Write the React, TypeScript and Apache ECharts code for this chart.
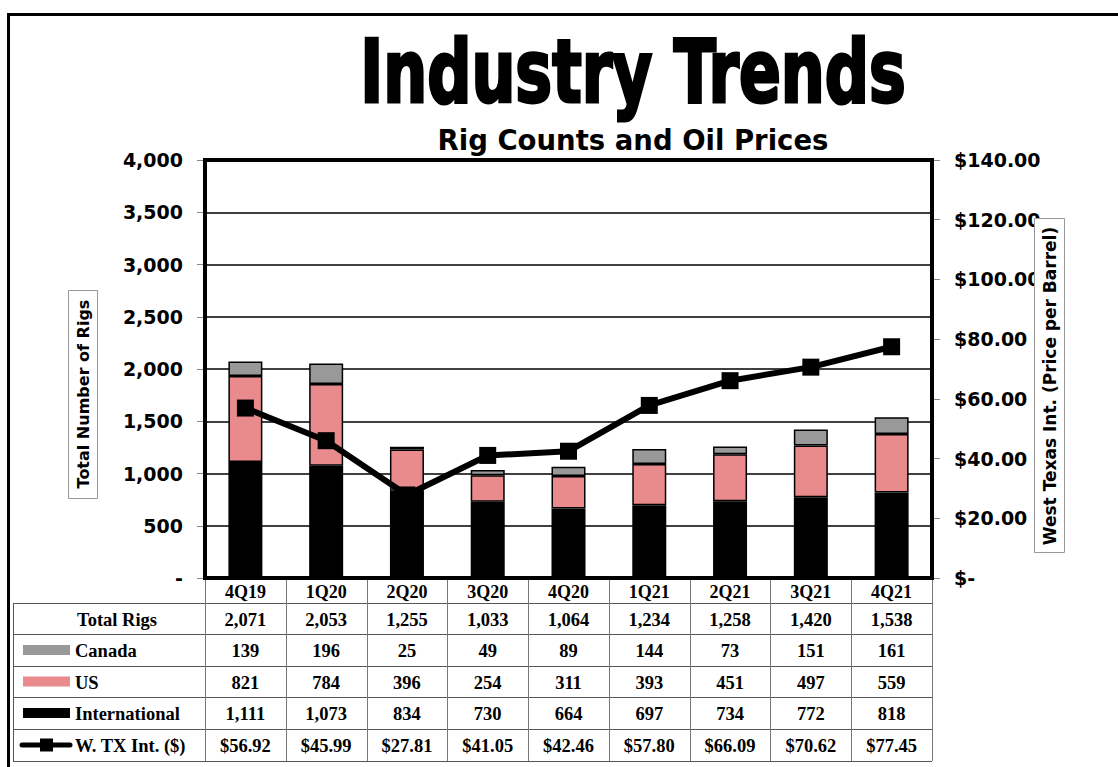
import React, { useEffect, useRef } from "react";
import * as echarts from "echarts";

const categories = ["4Q19", "1Q20", "2Q20", "3Q20", "4Q20", "1Q21", "2Q21", "3Q21", "4Q21"];
const totalRigs = [2071, 2053, 1255, 1033, 1064, 1234, 1258, 1420, 1538];
const canada = [139, 196, 25, 49, 89, 144, 73, 151, 161];
const us = [821, 784, 396, 254, 311, 393, 451, 497, 559];
const international = [1111, 1073, 834, 730, 664, 697, 734, 772, 818];
const wti = [56.92, 45.99, 27.81, 41.05, 42.46, 57.8, 66.09, 70.62, 77.45];

const GRAY = "#999999";
const PINK = "#E98A8C";
const SANS = "'DejaVu Sans', Verdana, sans-serif";
const SERIF = "'Liberation Serif', 'Times New Roman', serif";

const fmtInt = (v: number) => v.toLocaleString("en-US");
const fmtUsd = (v: number) => "$" + v.toFixed(2);

export default function App() {
  const ref = useRef<HTMLDivElement>(null);
  useEffect(() => {
    if (!ref.current) return;
    const chart = echarts.init(ref.current, undefined, { renderer: "svg" });
    const gl = 205, gt = 160, gw = 727, gh = 418;
    const colW = gw / categories.length;
    const rows = [603, 634, 666, 697, 729, 761];
    const tblLeft = 13, tblRight = gl + gw;
    const lineC = "#555";

    const g: any[] = [];
    // outer frame
    g.push({ type: "polyline", shape: { points: [[8.5, 770], [8.5, 14.5], [1120, 14.5]] }, style: { stroke: "#000", lineWidth: 3, fill: null }, z: 100 });
    // title
    g.push({
      type: "text", x: 633, y: 72, scaleX: 0.78, scaleY: 1.0,
      style: { text: "Industry Trends", fontFamily: "'DejaVu Sans Condensed', 'DejaVu Sans', sans-serif", fontWeight: "bold", fontSize: 88, fill: "#000", stroke: "#000", lineWidth: 3, align: "center", verticalAlign: "middle" },
    });
    g.push({
      type: "text", x: 633, y: 140,
      style: { text: "Rig Counts and Oil Prices", fontFamily: SANS, fontWeight: "bold", fontSize: 27.5, fill: "#000", align: "center", verticalAlign: "middle" },
    });
    // axis name boxes
    g.push({ type: "rect", shape: { x: 68.5, y: 290.5, width: 29, height: 208 }, style: { fill: "#fff", stroke: "#999", lineWidth: 1 }, z: 50 });
    g.push({ type: "text", x: 83, y: 394, rotation: Math.PI / 2, z: 51, style: { text: "Total Number of Rigs", fontFamily: SANS, fontWeight: "bold", fontSize: 16, fill: "#000", align: "center", verticalAlign: "middle" } });
    g.push({ type: "rect", shape: { x: 1034.5, y: 218.5, width: 30, height: 334 }, style: { fill: "#fff", stroke: "#999", lineWidth: 1 }, z: 50 });
    g.push({ type: "text", x: 1049.5, y: 386, rotation: Math.PI / 2, z: 51, style: { text: "West Texas Int. (Price per Barrel)", fontFamily: SANS, fontWeight: "bold", fontSize: 17, fill: "#000", align: "center", verticalAlign: "middle" } });

    // table lines
    rows.forEach((y) => {
      g.push({ type: "line", shape: { x1: tblLeft, y1: y + 0.5, x2: tblRight, y2: y + 0.5 }, style: { stroke: lineC, lineWidth: 1 } });
    });
    g.push({ type: "line", shape: { x1: tblLeft + 0.5, y1: rows[0], x2: tblLeft + 0.5, y2: rows[rows.length - 1] }, style: { stroke: lineC, lineWidth: 1 } });
    for (let i = 0; i <= categories.length; i++) {
      const x = Math.round(gl + i * colW) + 0.5;
      g.push({ type: "line", shape: { x1: x, y1: gt + gh, x2: x, y2: rows[rows.length - 1] }, style: { stroke: "#777", lineWidth: 1 } });
    }

    const rowLabels = ["Total Rigs", "Canada", "US", "International", "W. TX Int. ($)"];
    const rowData: string[][] = [
      totalRigs.map(fmtInt),
      canada.map(fmtInt),
      us.map(fmtInt),
      international.map(fmtInt),
      wti.map(fmtUsd),
    ];
    const tStyle = { fontFamily: SERIF, fontWeight: "bold", fontSize: 18.5, fill: "#000", verticalAlign: "middle" };
    rowLabels.forEach((lab, r) => {
      const cy = (rows[r] + rows[r + 1]) / 2 + 1;
      if (r === 0) {
        g.push({ type: "text", x: 117, y: cy, style: { ...tStyle, text: lab, align: "center" } });
      } else {
        g.push({ type: "text", x: 75, y: cy, style: { ...tStyle, text: lab, align: "left" } });
      }
      rowData[r].forEach((v, i) => {
        g.push({ type: "text", x: gl + (i + 0.5) * colW, y: cy, style: { ...tStyle, text: v, align: "center" } });
      });
    });
    // legend swatches
    const swColors = [GRAY, PINK, "#000"];
    swColors.forEach((c, k) => {
      const cy = (rows[k + 1] + rows[k + 2]) / 2;
      g.push({ type: "rect", shape: { x: 23, y: cy - 5, width: 47, height: 10 }, style: { fill: c } });
    });
    {
      const cy = (rows[4] + rows[5]) / 2;
      g.push({ type: "line", shape: { x1: 22, y1: cy, x2: 70, y2: cy }, style: { stroke: "#000", lineWidth: 5, lineCap: "round" } });
      g.push({ type: "rect", shape: { x: 40, y: cy - 6.5, width: 13, height: 13 }, style: { fill: "#000" } });
    }

    const barBase = { type: "bar", stack: "rigs", barWidth: 34 };
    chart.setOption({
      animation: false,
      grid: { left: gl, top: gt, width: gw, height: gh, show: true, borderColor: "#000", borderWidth: 4, backgroundColor: "transparent", z: 3 },
      xAxis: {
        type: "category", data: categories,
        axisLine: { show: false }, axisTick: { show: false },
        axisLabel: { fontFamily: SERIF, fontWeight: "bold", fontSize: 18, color: "#000", margin: 5 },
      },
      yAxis: [
        {
          type: "value", min: 0, max: 4000, interval: 500,
          axisLine: { show: false },
          axisTick: { show: true, length: 8, lineStyle: { color: "#888", width: 1 } },
          splitLine: { show: true, lineStyle: { color: "#000", width: 1.5 } },
          axisLabel: { fontFamily: SANS, fontWeight: "bold", fontSize: 19, color: "#000", margin: 22, formatter: (v: number) => (v === 0 ? "-" : fmtInt(v)) },
        },
        {
          type: "value", min: 0, max: 140, interval: 20, position: "right",
          axisLine: { show: false },
          axisTick: { show: true, length: 8, lineStyle: { color: "#888", width: 1 } },
          splitLine: { show: false },
          axisLabel: { fontFamily: SANS, fontWeight: "bold", fontSize: 19, color: "#000", margin: 22, formatter: (v: number) => (v === 0 ? "$-" : fmtUsd(v)) },
        },
      ],
      series: [
        { ...barBase, name: "International", data: international, itemStyle: { color: "#000", borderColor: "#000", borderWidth: 1.5 } },
        { ...barBase, name: "US", data: us, itemStyle: { color: PINK, borderColor: "#000", borderWidth: 1.5 } },
        { ...barBase, name: "Canada", data: canada, itemStyle: { color: GRAY, borderColor: "#000", borderWidth: 1.5 } },
        {
          type: "line", name: "W. TX Int. ($)", yAxisIndex: 1, data: wti, z: 10,
          symbol: "rect", symbolSize: 17,
          lineStyle: { color: "#000", width: 6 }, itemStyle: { color: "#000" },
        },
      ],
      graphic: g,
    });
    return () => chart.dispose();
  }, []);
  return <div ref={ref} style={{ position: "absolute", left: 0, top: 0, width: 1118, height: 767, background: "#fff" }} />;
}
